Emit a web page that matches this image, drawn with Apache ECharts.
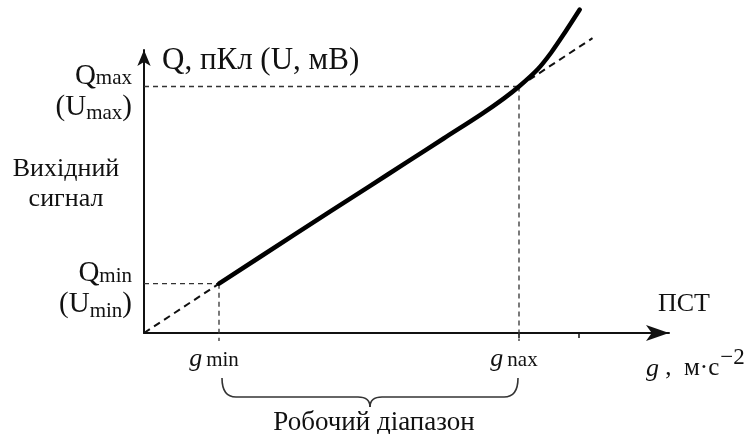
<!DOCTYPE html>
<html>
<head>
<meta charset="utf-8">
<script src="https://cdn.jsdelivr.net/npm/echarts@6/dist/echarts.min.js"></script>
<style>
html, body { margin: 0; padding: 0; background: #fff; }
#chart { width: 751px; height: 434px; }
</style>
</head>
<body>
<div id="chart"></div>
<script>
// робочий діапазон по осі g та відповідні Q (умовні одиниці)
let gRange = [1, 5];          // g min, g max
let qRange = [1, 5];          // Q min, Q max
let gTickExtra = 5.8;         // ще одна позначка на осі g

// вихідний сигнал (суцільна крива)
let curveX = [1, 2, 3, 3.5, 4, 4.5, 4.8, 5.0, 5.25, 5.43, 5.61, 5.81];
let curveY = [1, 1.99, 2.97, 3.46, 3.95, 4.44, 4.76, 5.0, 5.35, 5.69, 6.09, 6.56];

// лінійна апроксимація (штрихова)
let lineLowX = [0, 1];
let lineLowY = [0, 1];
let lineHighX = [5, 5.98];
let lineHighY = [5, 5.98];

let font = 'Liberation Serif';
let ink = '#111';

function pairs(xs, ys) {
    return xs.map((x, i) => [x, ys[i]]);
}

let guideH = function(q, g) {
    return [[-0.12, q], [g, q]];
};
let guideV = function(q, g) {
    return [[g, q], [g, -0.16]];
};

let myChart = echarts.init(document.getElementById('chart'));

let dashGuide = {
    type: 'line',
    symbol: 'none',
    silent: true,
    clip: false,
    lineStyle: { color: '#333', width: 1.3, type: [5, 4] }
};

let option = {
    animation: false,
    backgroundColor: '#fff',
    grid: { left: 144, top: 50, width: 525, height: 283 },
    xAxis: {
        type: 'value',
        min: 0,
        max: 7,
        axisLine: {
            lineStyle: { color: ink, width: 2 },
            symbol: ['none', 'arrow'],
            symbolSize: [12, 23]
        },
        axisTick: {
            show: true,
            customValues: [gRange[1], gTickExtra],
            length: 5,
            lineStyle: { color: ink, width: 1.5 }
        },
        axisLabel: {
            customValues: gRange,
            margin: 13,
            padding: [0, 10, 0, 0],
            formatter: function(v) {
                return v === gRange[0] ? '{g|g}{s|min}' : '{g|g}{s|nax}';
            },
            rich: {
                g: { fontFamily: font, fontSize: 26, fontStyle: 'italic', color: ink, verticalAlign: 'bottom' },
                s: { fontFamily: font, fontSize: 21, color: ink, verticalAlign: 'bottom', padding: [0, 0, 1, 4] }
            }
        },
        splitLine: { show: false }
    },
    yAxis: {
        type: 'value',
        min: 0,
        max: 5.74,
        axisLine: {
            show: true,
            lineStyle: { color: ink, width: 2 },
            symbol: ['none', 'arrow'],
            symbolSize: [10, 16]
        },
        axisTick: { show: false },
        axisLabel: {
            customValues: qRange,
            margin: 12,
            align: 'right',
            padding: [8, 0, 0, 0],
            formatter: function(v) {
                let sub = v === qRange[0] ? 'min' : 'max';
                return '{q|Q}{s|' + sub + '}\n{p|(U}{u|' + sub + '}{p|)}';
            },
            rich: {
                q: { fontFamily: font, fontSize: 29, color: ink, verticalAlign: 'bottom', lineHeight: 34 },
                s: { fontFamily: font, fontSize: 21, color: ink, verticalAlign: 'bottom', lineHeight: 34, padding: [0, 0, 1, 0] },
                p: { fontFamily: font, fontSize: 29, color: ink, verticalAlign: 'bottom', lineHeight: 34, padding: [0, 0, 3, 0] },
                u: { fontFamily: font, fontSize: 21, color: ink, verticalAlign: 'bottom', lineHeight: 34 }
            }
        },
        splitLine: { show: false }
    },
    series: [
        Object.assign({}, dashGuide, { data: guideH(qRange[0], gRange[0]) }),
        Object.assign({}, dashGuide, { data: guideV(qRange[0], gRange[0]) }),
        Object.assign({}, dashGuide, { data: guideH(qRange[1], gRange[1]) }),
        Object.assign({}, dashGuide, { data: guideV(qRange[1], gRange[1]) }),
        {
            type: 'line',
            symbol: 'none',
            clip: false,
            data: pairs(lineLowX, lineLowY),
            lineStyle: { color: ink, width: 2, type: [7, 5] }
        },
        {
            type: 'line',
            symbol: 'none',
            clip: false,
            data: pairs(lineHighX, lineHighY),
            lineStyle: { color: ink, width: 2, type: [7, 5] }
        },
        {
            type: 'line',
            symbol: 'none',
            clip: false,
            smooth: 0.3,
            data: pairs(curveX, curveY),
            lineStyle: { color: '#000', width: 4.5, cap: 'round' }
        }
    ]
};

myChart.setOption(option);

// фігурна дужка під робочим діапазоном
let p1 = myChart.convertToPixel({ gridIndex: 0 }, [gRange[0], 0]);
let p2 = myChart.convertToPixel({ gridIndex: 0 }, [gRange[1], 0]);
let xa = p1[0] + 3, xb = p2[0] - 1, xm = (xa + xb) / 2;
let yTop = p1[1] + 45, yLine = p1[1] + 64, yTip = p1[1] + 74;
let braceStyle = { stroke: '#333', lineWidth: 1.6, fill: null };

function bez(x1, y1, cx, cy, x2, y2) {
    return {
        type: 'bezierCurve',
        shape: { x1: x1, y1: y1, cpx1: cx, cpy1: cy, x2: x2, y2: y2 },
        style: braceStyle
    };
}
function seg(x1, y1, x2, y2) {
    return {
        type: 'line',
        shape: { x1: x1, y1: y1, x2: x2, y2: y2 },
        style: braceStyle
    };
}

myChart.setOption({
    graphic: [
        bez(xa, yTop, xa, yLine, xa + 14, yLine),
        seg(xa + 14, yLine, xm - 12, yLine),
        bez(xm - 12, yLine, xm, yLine, xm, yTip),
        bez(xm, yTip, xm, yLine, xm + 12, yLine),
        seg(xm + 12, yLine, xb - 14, yLine),
        bez(xb - 14, yLine, xb, yLine, xb, yTop),
        {
            type: 'text',
            x: xm + 4, y: 423,
            style: {
                text: 'Робочий діапазон', font: '27px ' + font, fill: ink,
                textAlign: 'center', textVerticalAlign: 'middle'
            }
        },
        {
            type: 'text',
            x: 162, y: 61,
            style: {
                text: 'Q, пКл (U, мВ)', font: '31px ' + font, fill: ink,
                textAlign: 'left', textVerticalAlign: 'middle'
            }
        },
        {
            type: 'text',
            x: 66, y: 169,
            style: {
                text: 'Вихідний', font: '26px ' + font, fill: ink,
                textAlign: 'center', textVerticalAlign: 'middle'
            }
        },
        {
            type: 'text',
            x: 66, y: 199,
            style: {
                text: 'сигнал', font: '26px ' + font, fill: ink,
                textAlign: 'center', textVerticalAlign: 'middle'
            }
        },
        {
            type: 'text',
            x: 684, y: 304,
            style: {
                text: 'ПСТ', font: '26px ' + font, fill: ink,
                textAlign: 'center', textVerticalAlign: 'middle'
            }
        },
        {
            type: 'text',
            x: 646, y: 346,
            style: {
                text: '{g|g}{n| ,  м·с}{e|−2}',
                textAlign: 'left',
                rich: {
                    g: { fontFamily: font, fontSize: 26, fontStyle: 'italic', fill: ink, verticalAlign: 'bottom' },
                    n: { fontFamily: font, fontSize: 25, fill: ink, verticalAlign: 'bottom', padding: [0, 0, 1, 0] },
                    e: { fontFamily: font, fontSize: 23, fill: ink, verticalAlign: 'bottom', padding: [0, 0, 13, 1] }
                }
            }
        }
    ]
});
</script>
</body>
</html>
